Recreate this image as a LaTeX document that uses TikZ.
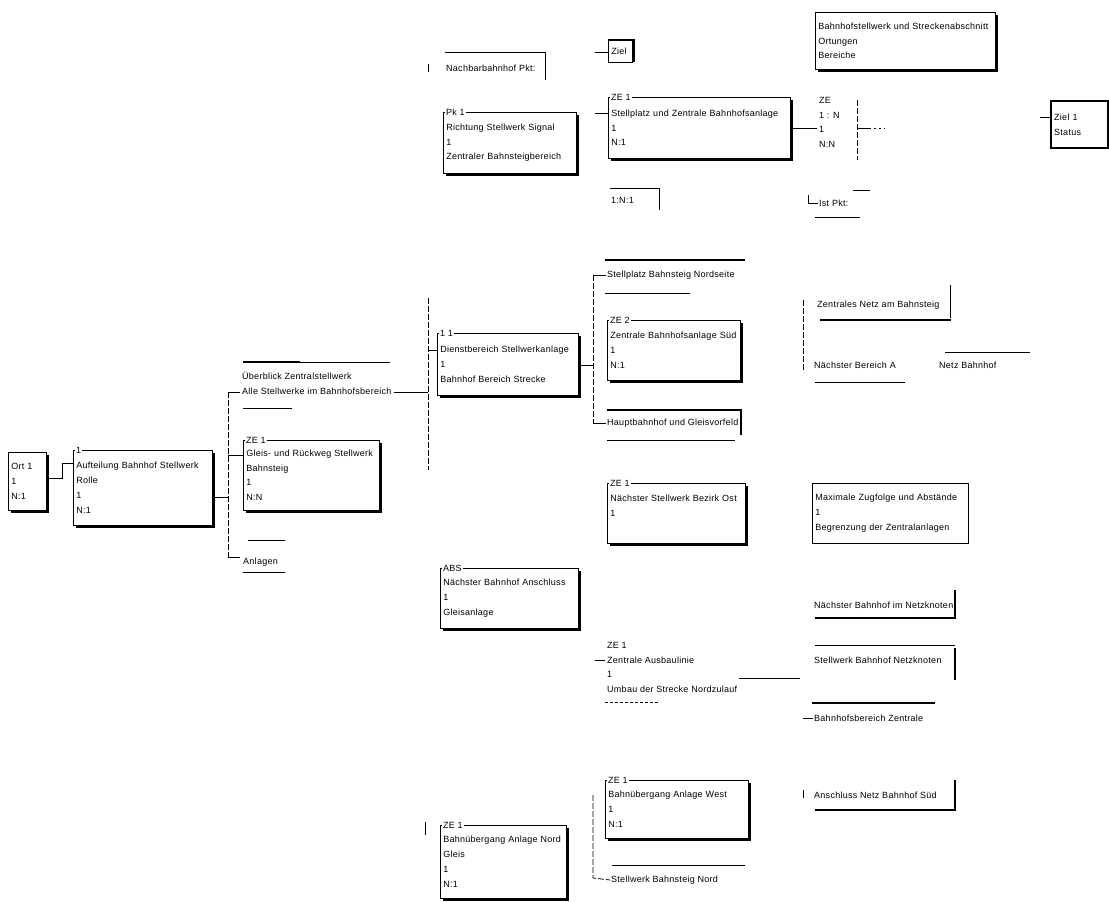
\documentclass[tikz,border=0pt]{standalone}
\usepackage{fontspec}
\setmainfont[LetterSpace=3]{Liberation Sans}
\usetikzlibrary{shadows}
\begin{document}
\begin{tikzpicture}[x=1pt,y=-1pt,
  every node/.style={font=\fontsize{9}{14.8}\selectfont},
  txt/.style={anchor=west, inner sep=1pt},
  mtxt/.style={anchor=north west, align=left, inner xsep=2pt, inner ysep=0pt},
  sbox/.style={anchor=north west, align=left, draw, line width=0.6pt, fill=white, inner xsep=3pt, inner ysep=1pt,
     drop shadow={shadow xshift=3pt, shadow yshift=-3pt, fill=black, opacity=1}},
  pbox/.style={anchor=north west, align=left, draw, line width=0.6pt, inner xsep=3pt, inner ysep=1pt},
  lbl/.style={anchor=west, fill=white, inner sep=1pt, xshift=2pt},
  rule/.style={line width=0.8pt},
  trule/.style={line width=2.6pt},
  conn/.style={line width=0.8pt},
  dconn/.style={line width=0.8pt, dash pattern=on 6pt off 2pt},
]
\useasboundingbox (0,0) rectangle (1109,902);

% ---------------- level 0 / 1 ----------------
\node[sbox, text width=32pt, minimum height=58pt] (A) at (8,452) {Ort 1\\1\\N:1};
\node[sbox, text width=133pt, minimum height=75pt] (B) at (73,450) {Aufteilung Bahnhof Stellwerk\\Rolle\\1\\N:1};
\node[lbl] at (B.north west) {1};
\draw[conn] (A.east |- 0,478) -- (62,478) -- (62,463) -- (B.west |- 0,463);

% ---------------- level 2 ----------------
\coordinate (br2t) at (228,392);
\coordinate (br2b) at (228,557);
\draw[conn] (B.east |- 0,497) -- (228,497);
\draw[dconn] (br2t) -- (br2b);
\node[mtxt] (C1) at (240,372) {Überblick Zentralstellwerk\\Alle Stellwerke im Bahnhofsbereich};
\draw[trule, line width=1.6pt] (243,362) -- (300,362);
\draw[rule] (300,362) -- (390,362);
\draw[rule] (243,408) -- (292,408);
\draw[conn] (br2t) -- (C1.west |- br2t);

\node[sbox, text width=130pt, minimum height=70pt] (C2) at (243,440) {Gleis- und Rückweg Stellwerk\\Bahnsteig\\1\\N:N};
\node[lbl] at (C2.north west) {ZE 1};
\draw[conn] (228,455) -- (C2.west |- 0,455);

\node[txt] (C3) at (242,562) {Anlagen};
\draw[rule] (248,540) -- (285,540);
\draw[rule] (243,572) -- (285,572);
\draw[conn] (br2b) -- (240,557);

% ---------------- level 3 ----------------
\coordinate (br3t) at (428,298);
\coordinate (br3b) at (428,470);
\draw[dconn] (br3t) -- (br3b);
\draw[conn] (C1.east |- br2t) -- (428,392);

\node[txt] (N1) at (445,68) {Nachbarbahnhof Pkt:};
\draw[rule] (445,52) -- (545,52) -- (545,80);
\draw[conn] (428,64) -- (428,72);

\node[sbox, text width=127pt, minimum height=61pt] (N2) at (443,112) {Richtung Stellwerk Signal\\1\\Zentraler Bahnsteigbereich};
\node[lbl] at (N2.north west) {Pk 1};

\node[sbox, text width=135pt, minimum height=62pt] (D) at (437,333) {Dienstbereich Stellwerkanlage\\1\\Bahnhof Bereich Strecke};
\node[lbl] at (D.north west) {1 1};
\draw[conn] (428,350) -- (D.west |- 0,350);

\node[sbox, text width=132pt, minimum height=60pt] (E) at (440,568) {Nächster Bahnhof Anschluss\\1\\Gleisanlage};
\node[lbl] at (E.north west) {ABS};

\node[sbox, text width=120pt, minimum height=73pt] (F) at (440,825) {Bahnübergang Anlage Nord\\Gleis\\1\\N:1};
\node[lbl] at (F.north west) {ZE 1};
\draw[conn] (425,822) -- (425,835);

% ---------------- level 4 (top) ----------------
\node[pbox, text width=18pt, minimum height=22pt, line width=0.6pt] (P1) at (608,40) {Ziel};
\draw[trule] (608,40) -- (634,40) -- (634,62);
\draw[conn] (595,52) -- (P1.west |- 0,52);

\node[sbox, text width=176pt, minimum height=61pt] (P2) at (608,97) {Stellplatz und Zentrale Bahnhofsanlage\\1\\N:1};
\node[lbl] at (P2.north west) {ZE 1};
\draw[conn] (595,113) -- (P2.west |- 0,113);

\node[txt] (P3) at (610,200) {1:N:1};
\draw[rule] (610,188) -- (659,188) -- (659,210);

% Q node
\node[mtxt] (Q) at (817,97) {ZE\\1 : N\\1\\N:N};
\draw[dconn] (857,100) -- (857,160);
\draw[conn] (P2.east |- 0,128) -- (Q.west |- 0,128);
\draw[conn, dash pattern=on 14pt off 3pt on 2pt off 3pt on 2pt off 3pt] (857,128) -- (885,128);

\node[sbox, text width=174pt, minimum height=57pt] (R) at (815,12) {Bahnhofstellwerk und Streckenabschnitt\\Ortungen\\Bereiche};

\node[txt] (S) at (818,203) {Ist Pkt:};
\draw[rule] (853,190) -- (870,190);
\draw[rule] (815,217) -- (860,217);
\draw[conn] (808,195) -- (808,203) -- (S.west);

\node[pbox, text width=51pt, minimum height=47pt, line width=2.4pt] (T) at (1050,100) {Ziel 1\\Status};
\draw[conn] (1040,117) -- (T.west |- 0,117);

% ---------------- level 4 (middle) ----------------
\coordinate (br4t) at (593,275);
\coordinate (br4b) at (593,423);
\draw[dconn] (br4t) -- (br4b);
\draw[conn] (D.east |- 0,365) -- (593,365);

\node[txt] (G1) at (606,275) {Stellplatz Bahnsteig Nordseite};
\draw[rule, line width=1.5pt] (605,260) -- (745,260);
\draw[rule] (605,293) -- (690,293);
\draw[conn] (br4t) -- (G1.west);

\node[sbox, text width=127pt, minimum height=60pt] (G2) at (607,320) {Zentrale Bahnhofsanlage Süd\\1\\N:1};
\node[lbl] at (G2.north west) {ZE 2};

\node[txt] (G3) at (606,423) {Hauptbahnhof und Gleisvorfeld};
\draw[rule, line width=1.5pt] (607,410) -- (741,410) -- (741,435);
\draw[rule] (607,440) -- (735,440);
\draw[conn] (br4b) -- (G3.west);

\node[sbox, text width=132pt, minimum height=60pt] (H1) at (607,483) {Nächster Stellwerk Bezirk Ost\\1\\\mbox{}};
\node[lbl] at (H1.north west) {ZE 1};

\node[mtxt] (H2) at (605,642) {ZE 1\\Zentrale Ausbaulinie\\1\\Umbau der Strecke Nordzulauf};
\draw[rule, dash pattern=on 3pt off 2pt] (605,702) -- (660,702);
\draw[conn] (595,660) -- (H2.west |- 0,660);

\node[sbox, text width=137pt, minimum height=58pt] (J1) at (605,780) {Bahnübergang Anlage West\\1\\N:1};
\node[lbl] at (J1.north west) {ZE 1};

\node[txt] (J2) at (610,880) {Stellwerk Bahnsteig Nord};
\draw[rule] (612,865) -- (745,865);
\draw[dconn] (593,795) -- (593,878) -- (J2.west);

% ---------------- level 5 ----------------
\draw[dconn] (803,300) -- (803,372);
\node[txt] (K1) at (816,305) {Zentrales Netz am Bahnsteig};
\draw[rule] (950,285) -- (950,318);
\draw[trule] (820,320) -- (951,320);

\node[txt] (K2) at (813,365) {Nächster Bereich A};
\draw[rule] (815,382) -- (905,382);
\node[txt] (K3) at (938,365) {Netz Bahnhof};
\draw[rule] (945,352) -- (1030,352);

\node[pbox, text width=150pt, minimum height=60pt] (L1) at (812,483) {Maximale Zugfolge und Abstände\\1\\Begrenzung der Zentralanlagen};

\node[txt] (L2) at (813,605) {Nächster Bahnhof im Netzknoten};
\draw[trule] (955,590) -- (955,618) -- (815,618);

\node[txt] (L3) at (813,660) {Stellwerk Bahnhof Netzknoten};
\draw[rule] (815,645) -- (955,645);
\draw[trule] (955,648) -- (955,680);
\draw[conn] (H2.east |- 0,678) -- (800,678);

\node[txt] (L4) at (813,718) {Bahnhofsbereich Zentrale};
\draw[trule] (812,703) -- (935,703);
\draw[conn] (803,718) -- (L4.west);

\node[txt] (M1) at (813,795) {Anschluss Netz Bahnhof Süd};
\draw[trule] (955,780) -- (955,810) -- (815,810);
\draw[conn] (803,790) -- (803,798);

\end{tikzpicture}
\end{document}
